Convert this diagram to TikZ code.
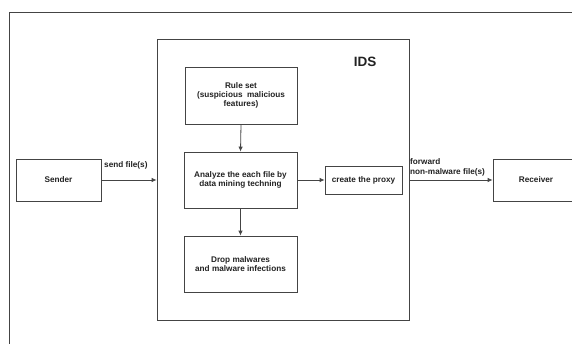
\documentclass[tikz,border=0pt]{standalone}
\usepackage{fontspec}
\setmainfont{Liberation Sans}
\usetikzlibrary{arrows.meta}
\definecolor{ln}{HTML}{444444}
\definecolor{tx}{HTML}{222222}
\tikzset{
  box/.style={draw=ln, line width=0.8pt, align=center, font=\fontsize{8.2}{9.3}\selectfont\bfseries, text=tx, inner sep=0pt},
  arr/.style={draw=ln, line width=0.8pt, -{Latex[length=5pt,width=4.5pt]}},
  lbl/.style={font=\fontsize{8.2}{9.3}\selectfont\bfseries, text=tx, inner sep=0pt, align=left}
}
\begin{document}
\begin{tikzpicture}[x=1pt,y=-1pt]
\useasboundingbox (0,0) rectangle (572,343);
\clip (0,0) rectangle (572,343);
\fill[white] (0,0) rectangle (572,343);
\draw[ln, line width=0.7pt] (9,12) rectangle (590,360);
% IDS container
\node[box, minimum width=252pt, minimum height=281pt] (ids) at (283,179.5) {};
\node[font=\fontsize{13.5}{15}\selectfont\bfseries, text=tx, inner sep=0pt] (idslbl) at (365,62) {IDS};
% boxes
\node[box, minimum width=112pt, minimum height=57pt] (rule) at (241,95.5) {Rule set\\(suspicious\ \ malicious\\features)};
\node[box, minimum width=113pt, minimum height=56pt] (ana) at (240.5,180) {Analyze the each file by\\data mining techning};
\node[box, minimum width=113pt, minimum height=56pt] (drop) at (240.5,264) {Drop malwares\\and malware infections};
\node[box, minimum width=77pt, minimum height=28pt] (proxy) at (363.5,180) {create the proxy};
\node[box, minimum width=85pt, minimum height=42pt] (sender) at (58.5,180) {Sender};
\node[box, minimum width=86pt, minimum height=42pt] (recv) at (536,180) {Receiver};
% connectors
\coordinate (idsin) at (ids.west |- sender.east);
\coordinate (idsout) at (ids.east |- recv.west);
\draw[arr] (sender.east) -- (idsin);
\draw[arr] (rule.south) -- (ana.north);
\draw[arr] (ana.south) -- (drop.north);
\draw[arr] (ana.east) -- (proxy.west);
\draw[arr] (idsout) -- (recv.west);
% labels
\node[lbl, anchor=west] (l1) at (104,165) {send file(s)};
\node[lbl, anchor=west] (l2) at (410,167.5) {forward\\non-malware file(s)};
\end{tikzpicture}
\end{document}
